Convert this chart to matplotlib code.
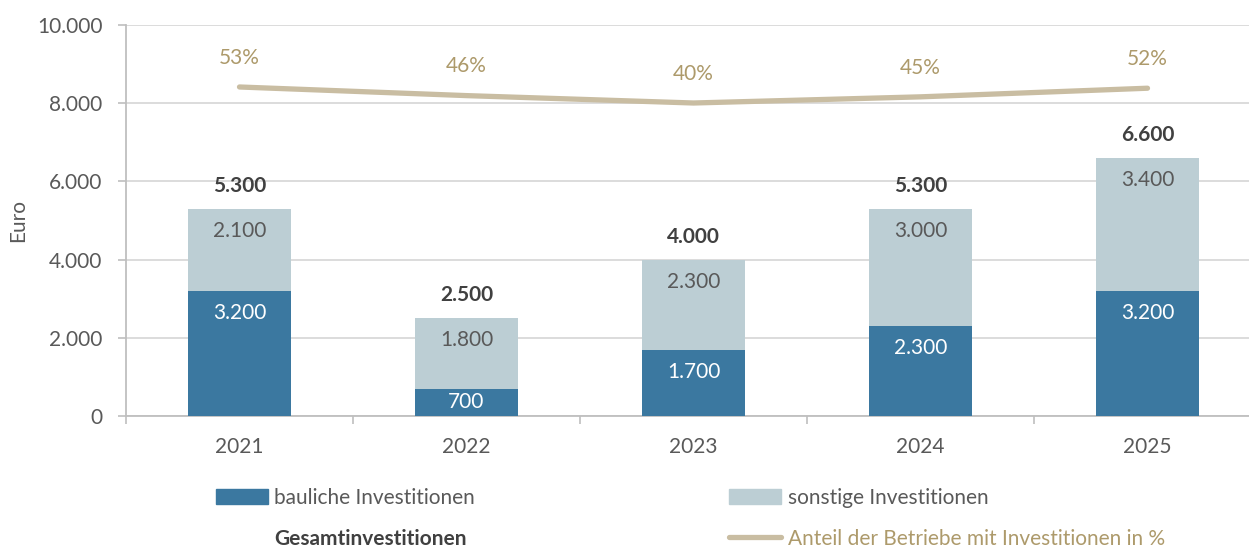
import numpy as np
import matplotlib.pyplot as plt
from matplotlib.patches import Patch
from matplotlib.lines import Line2D

plt.rcParams['font.family'] = ['Lato', 'DejaVu Sans']

# data
years = ['2021', '2022', '2023', '2024', '2025']
bauliche = [3200, 700, 1700, 2300, 3200]
sonstige = [2100, 1800, 2300, 3000, 3400]
gesamt = [5300, 2500, 4000, 5300, 6600]
anteil = [53, 46, 40, 45, 52]

dark = '#3B78A0'
light = '#BCCED4'
line_col = '#C9BDA2'
pct_col = '#AD9A6B'
txt = '#595959'
grid_col = '#D9D9D9'
spine_col = '#BFBFBF'

def de(v):
    return f'{v:,.0f}'.replace(',', '.')

fig = plt.figure(figsize=(12.49, 5.5), dpi=100)
# axes wider than figure on the right, as in the reference
ax = fig.add_axes([126 / 1249, 1 - 416 / 550, 1135 / 1249, 391 / 550])

x = np.arange(len(years))
w = 0.45
ax.bar(x, bauliche, w, color=dark, zorder=3)
ax.bar(x, sonstige, w, bottom=bauliche, color=light, zorder=3)

off = 22 * 10000 / 391  # ~22 px in data units
for i in range(len(x)):
    # inside-end labels
    yb = max(bauliche[i] - off, bauliche[i] / 2)
    ax.text(x[i], yb, de(bauliche[i]), ha='center', va='center', color='white', fontsize=15, zorder=4)
    top = bauliche[i] + sonstige[i]
    ys = max(top - off, bauliche[i] + sonstige[i] / 2)
    ax.text(x[i], ys, de(sonstige[i]), ha='center', va='center', color=txt, fontsize=15, zorder=4)
    ax.annotate(de(gesamt[i]), (x[i], top), xytext=(0, 16.5), textcoords='offset points',
                ha='center', va='center', color='#404040', fontsize=15, fontweight='bold', zorder=4)

ax.set_xlim(-0.5, 4.5)
ax.set_ylim(0, 10000)
ax.set_yticks(np.arange(0, 10001, 2000))
ax.set_yticklabels([de(v) for v in np.arange(0, 10001, 2000)])
ax.set_xticks(x)
ax.set_xticklabels(years)
ax.set_xticks(np.arange(-0.5, 5, 1), minor=True)
ax.tick_params(axis='x', which='major', length=0, pad=15, labelsize=15, labelcolor=txt)
ax.tick_params(axis='x', which='minor', length=6, width=1.2, color=spine_col, direction='out')
ax.tick_params(axis='y', length=6, width=1.2, color=spine_col, pad=11, labelsize=15, labelcolor=txt)
ax.yaxis.grid(True, color=grid_col, linewidth=1.3, zorder=0)
ax.set_axisbelow(True)
for s in ['top', 'right']:
    ax.spines[s].set_visible(False)
for s in ['left', 'bottom']:
    ax.spines[s].set_color(spine_col)
    ax.spines[s].set_linewidth(1.3)

# share line on hidden secondary axis
ax2 = ax.twinx()
ax2.set_ylim(-214, 103.3)
ax2.plot(x, anteil, color=line_col, linewidth=3.8, solid_capstyle='round', zorder=5)
for i in range(len(x)):
    ax2.annotate(f'{anteil[i]}%', (x[i], anteil[i]), xytext=(0, 21), textcoords='offset points',
                 ha='center', va='center', color=pct_col, fontsize=15)
ax2.axis('off')

fig.text(18 / 1249, 1 - 220 / 550, 'Euro', rotation=90, ha='center', va='center', color=txt, fontsize=15)

handles = [Patch(color=dark), Patch(facecolor='none', edgecolor='none'),
           Patch(color=light), Line2D([], [], color=line_col, linewidth=3.8, solid_capstyle='round')]
labels = ['bauliche Investitionen', 'Gesamtinvestitionen',
          'sonstige Investitionen', 'Anteil der Betriebe mit Investitionen in %']
leg = fig.legend(handles, labels, ncol=2, loc='upper left', bbox_to_anchor=(216 / 1249, 1 - 488 / 550),
                 frameon=False, fontsize=15, handlelength=2.5, handleheight=0.75,
                 handletextpad=0.3, columnspacing=12.2, labelspacing=1.0, borderpad=0, borderaxespad=0)
cols = [txt, '#404040', txt, pct_col]
for t, c in zip(leg.get_texts(), cols):
    t.set_color(c)
leg.get_texts()[1].set_fontweight('bold')

fig.savefig('out.png', dpi=100)
